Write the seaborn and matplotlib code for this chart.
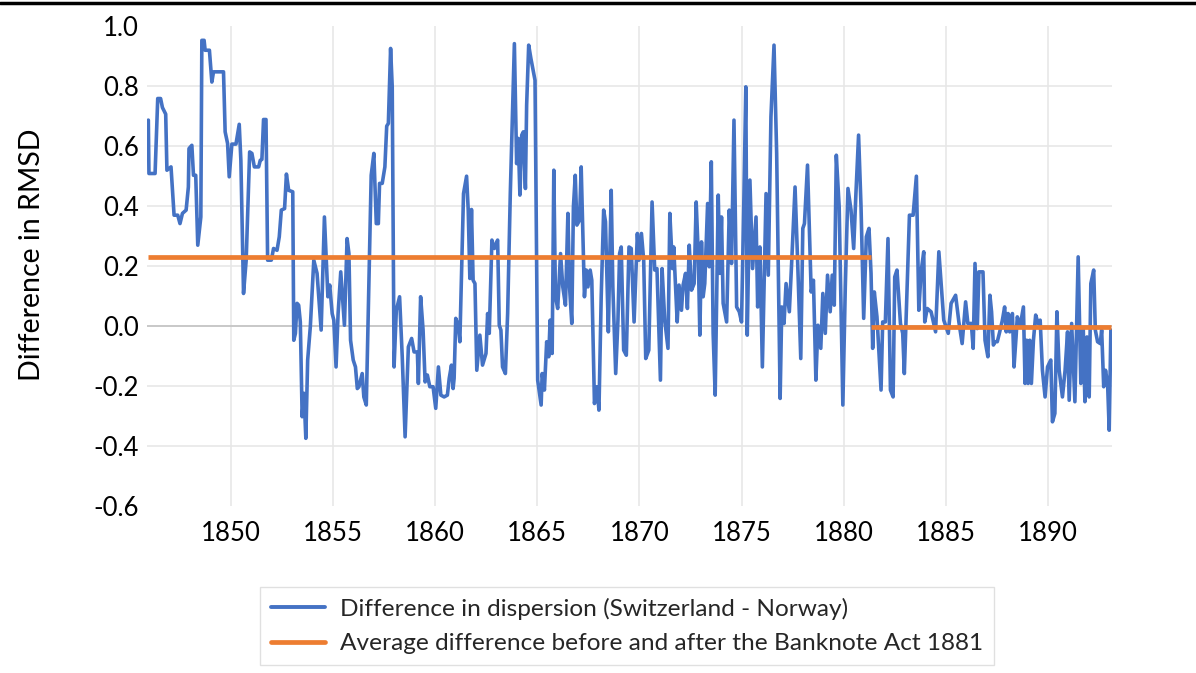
import numpy as np
import pandas as pd
import matplotlib
matplotlib.use("Agg")
import matplotlib.pyplot as plt
from matplotlib.lines import Line2D
import seaborn as sns

# values (year as decimal, difference in RMSD)
dates = [
    1845.96, 1845.99, 1846.29, 1846.42, 1846.56, 1846.65, 1846.81, 1846.87, 1847.07, 1847.22,
    1847.40, 1847.51, 1847.63, 1847.81, 1847.92, 1847.95, 1848.09, 1848.17, 1848.28, 1848.38,
    1848.53, 1848.58, 1848.69, 1848.74, 1848.95, 1849.07, 1849.15, 1849.64, 1849.72, 1849.84,
    1849.92, 1850.05, 1850.25, 1850.41, 1850.49, 1850.62, 1850.75, 1850.92, 1851.03, 1851.15,
    1851.36, 1851.44, 1851.52, 1851.60, 1851.72, 1851.80, 1851.98, 1852.09, 1852.26, 1852.37,
    1852.47, 1852.63, 1852.72, 1852.83, 1853.03, 1853.08, 1853.16, 1853.24, 1853.32, 1853.40,
    1853.49, 1853.58, 1853.67, 1853.76, 1853.89, 1854.06, 1854.22, 1854.42, 1854.58, 1854.75,
    1854.84, 1854.96, 1855.04, 1855.15, 1855.25, 1855.38, 1855.56, 1855.69, 1855.78, 1855.86,
    1855.99, 1856.10, 1856.19, 1856.27, 1856.43, 1856.51, 1856.63, 1856.79, 1856.87, 1857.00,
    1857.12, 1857.22, 1857.28, 1857.41, 1857.54, 1857.63, 1857.71, 1857.82, 1857.90, 1857.99,
    1858.10, 1858.26, 1858.39, 1858.53, 1858.69, 1858.85, 1858.97, 1859.13, 1859.18, 1859.29,
    1859.41, 1859.51, 1859.62, 1859.74, 1859.90, 1860.03, 1860.16, 1860.28, 1860.44, 1860.60,
    1860.69, 1860.80, 1860.88, 1860.93, 1861.01, 1861.13, 1861.21, 1861.31, 1861.39, 1861.54,
    1861.62, 1861.70, 1861.78, 1861.86, 1861.95, 1862.04, 1862.19, 1862.32, 1862.49, 1862.57,
    1862.65, 1862.78, 1862.90, 1863.06, 1863.14, 1863.22, 1863.30, 1863.44, 1863.55, 1863.68,
    1863.88, 1863.99, 1864.07, 1864.15, 1864.24, 1864.32, 1864.42, 1864.48, 1864.58, 1864.69,
    1864.89, 1865.02, 1865.19, 1865.24, 1865.35, 1865.46, 1865.56, 1865.63, 1865.73, 1865.81,
    1865.89, 1866.00, 1866.14, 1866.25, 1866.38, 1866.50, 1866.58, 1866.69, 1866.77, 1866.86,
    1866.94, 1867.07, 1867.15, 1867.31, 1867.40, 1867.48, 1867.59, 1867.67, 1867.80, 1867.92,
    1868.02, 1868.13, 1868.25, 1868.34, 1868.48, 1868.54, 1868.62, 1868.70, 1868.84, 1868.95,
    1869.03, 1869.11, 1869.23, 1869.36, 1869.49, 1869.60, 1869.74, 1869.90, 1869.98, 1870.10,
    1870.21, 1870.31, 1870.46, 1870.62, 1870.75, 1870.86, 1871.03, 1871.11, 1871.24, 1871.40,
    1871.49, 1871.62, 1871.68, 1871.85, 1871.94, 1872.06, 1872.14, 1872.26, 1872.35, 1872.44,
    1872.55, 1872.68, 1872.78, 1872.88, 1872.96, 1873.04, 1873.12, 1873.20, 1873.34, 1873.42,
    1873.52, 1873.61, 1873.71, 1873.86, 1873.94, 1874.02, 1874.10, 1874.27, 1874.40, 1874.51,
    1874.63, 1874.76, 1874.89, 1875.00, 1875.12, 1875.21, 1875.28, 1875.41, 1875.54, 1875.71,
    1875.79, 1875.90, 1876.02, 1876.20, 1876.31, 1876.44, 1876.59, 1876.72, 1876.89, 1876.97,
    1877.08, 1877.18, 1877.34, 1877.46, 1877.62, 1877.75, 1877.90, 1878.00, 1878.08, 1878.23,
    1878.41, 1878.52, 1878.64, 1878.74, 1878.88, 1878.98, 1879.10, 1879.21, 1879.34, 1879.44,
    1879.54, 1879.64, 1879.78, 1879.96, 1880.08, 1880.21, 1880.36, 1880.49, 1880.60, 1880.73,
    1880.85, 1880.98, 1881.11, 1881.24, 1881.34, 1881.42, 1881.50, 1881.63, 1881.83, 1881.91,
    1882.04, 1882.17, 1882.29, 1882.42, 1882.50, 1882.61, 1882.78, 1882.89, 1882.97, 1883.22,
    1883.40, 1883.56, 1883.68, 1883.79, 1883.92, 1883.97, 1884.09, 1884.28, 1884.50, 1884.66,
    1884.77, 1884.90, 1885.12, 1885.26, 1885.48, 1885.64, 1885.80, 1885.97, 1886.08, 1886.25,
    1886.34, 1886.43, 1886.54, 1886.62, 1886.82, 1886.92, 1887.06, 1887.16, 1887.24, 1887.33,
    1887.41, 1887.52, 1887.64, 1887.77, 1887.88, 1887.96, 1888.05, 1888.13, 1888.26, 1888.34,
    1888.44, 1888.50, 1888.64, 1888.80, 1888.88, 1888.96, 1889.03, 1889.11, 1889.19, 1889.29,
    1889.40, 1889.52, 1889.62, 1889.73, 1889.86, 1889.98, 1890.14, 1890.22, 1890.34, 1890.44,
    1890.55, 1890.71, 1890.84, 1890.96, 1891.04, 1891.16, 1891.32, 1891.48, 1891.61, 1891.73,
    1891.81, 1891.91, 1892.02, 1892.10, 1892.24, 1892.32, 1892.43, 1892.56, 1892.63, 1892.73,
    1892.82, 1892.92, 1893.00, 1893.08,
]
rmsd_diff = [
    0.687, 0.509, 0.509, 0.759, 0.759, 0.729, 0.707, 0.520, 0.531, 0.370,
    0.370, 0.342, 0.376, 0.387, 0.464, 0.592, 0.603, 0.503, 0.503, 0.270,
    0.364, 0.953, 0.953, 0.920, 0.920, 0.814, 0.848, 0.848, 0.648, 0.609,
    0.498, 0.607, 0.607, 0.673, 0.553, 0.109, 0.220, 0.581, 0.576, 0.531,
    0.531, 0.553, 0.556, 0.689, 0.689, 0.220, 0.220, 0.259, 0.253, 0.298,
    0.387, 0.392, 0.507, 0.453, 0.448, -0.047, -0.024, 0.076, 0.070, 0.014,
    -0.302, -0.224, -0.374, -0.113, -0.002, 0.220, 0.176, -0.013, 0.364, 0.098,
    0.137, 0.042, 0.020, -0.136, 0.042, 0.181, 0.003, 0.292, 0.242, -0.047,
    -0.113, -0.136, -0.208, -0.202, -0.158, -0.236, -0.263, 0.242, 0.503, 0.576,
    0.342, 0.342, 0.476, 0.476, 0.531, 0.667, 0.676, 0.926, 0.798, -0.136,
    0.053, 0.098, -0.102, -0.369, -0.069, -0.041, -0.086, -0.086, -0.191, 0.098,
    -0.013, -0.186, -0.163, -0.202, -0.202, -0.274, -0.136, -0.230, -0.236, -0.230,
    -0.174, -0.130, -0.208, -0.174, 0.026, 0.003, -0.052, 0.220, 0.442, 0.500,
    0.387, 0.159, 0.389, 0.153, 0.142, -0.147, -0.030, -0.130, -0.091, 0.042,
    -0.024, 0.287, 0.259, 0.287, 0.003, -0.013, -0.136, -0.158, 0.042, 0.442,
    0.942, 0.542, 0.626, 0.437, 0.637, 0.648, 0.459, 0.737, 0.937, 0.892,
    0.820, -0.180, -0.263, -0.158, -0.213, -0.052, -0.102, 0.020, -0.091, 0.520,
    0.098, 0.059, 0.242, 0.131, 0.070, 0.376, 0.131, 0.009, 0.398, 0.503,
    0.337, 0.353, 0.531, 0.098, 0.187, 0.131, 0.187, 0.153, -0.258, -0.202,
    -0.280, 0.098, 0.387, 0.348, -0.019, 0.192, 0.453, 0.131, -0.158, 0.020,
    0.242, 0.264, -0.080, -0.097, 0.264, 0.259, 0.014, 0.309, 0.220, 0.309,
    0.220, -0.108, -0.080, 0.414, 0.187, 0.192, -0.180, 0.192, 0.020, -0.074,
    0.376, 0.192, 0.264, 0.014, 0.137, 0.053, 0.137, 0.176, 0.059, 0.270,
    0.120, 0.142, 0.414, 0.242, -0.030, 0.281, 0.098, 0.142, 0.409, 0.198,
    0.548, -0.024, -0.230, 0.437, 0.176, 0.364, 0.076, 0.014, 0.387, 0.209,
    0.687, 0.064, 0.048, 0.014, 0.442, 0.798, -0.030, 0.487, 0.192, 0.364,
    0.064, 0.264, -0.136, 0.442, 0.170, 0.698, 0.937, 0.576, -0.241, 0.064,
    0.009, 0.142, 0.048, 0.220, 0.464, 0.209, -0.108, 0.326, 0.342, 0.537,
    0.114, 0.153, -0.180, 0.003, -0.074, 0.109, -0.024, 0.170, 0.048, 0.170,
    0.070, 0.570, 0.398, -0.263, 0.131, 0.459, 0.387, 0.259, 0.442, 0.637,
    0.398, 0.026, 0.298, 0.326, 0.176, -0.074, 0.114, 0.031, -0.213, 0.014,
    0.014, 0.292, -0.213, -0.236, 0.164, 0.187, 0.009, -0.024, -0.158, 0.370,
    0.370, 0.500, 0.053, 0.181, 0.248, 0.014, 0.059, 0.048, -0.019, 0.248,
    0.142, 0.020, -0.024, 0.076, 0.103, 0.014, -0.058, 0.081, 0.009, 0.009,
    -0.074, 0.209, -0.008, 0.181, 0.181, -0.047, -0.102, 0.103, 0.048, -0.063,
    -0.052, -0.052, -0.019, 0.020, 0.064, -0.019, 0.042, -0.019, 0.042, -0.136,
    -0.036, 0.031, 0.000, 0.064, -0.191, -0.047, -0.191, -0.047, -0.191, -0.047,
    0.037, 0.009, 0.020, -0.147, -0.236, -0.136, -0.113, -0.319, -0.291, 0.048,
    -0.147, -0.236, -0.147, -0.019, -0.247, 0.009, -0.252, 0.231, -0.191, -0.008,
    -0.252, -0.036, -0.236, 0.142, 0.187, -0.013, -0.052, -0.058, -0.013, -0.202,
    -0.147, -0.191, -0.347, -0.013,
]

# average difference before / after the Banknote Act 1881
avg_start = [1845.96, 1881.35]
avg_end = [1881.35, 1893.10]
avg_value = [0.232, -0.003]

y_ticks = [-0.6, -0.4, -0.2, 0.0, 0.2, 0.4, 0.6, 0.8, 1.0]
x_ticks = [1850, 1855, 1860, 1865, 1870, 1875, 1880, 1885, 1890]

BLUE = "#4472C4"
ORANGE = "#ED7D31"

sns.set_theme(style="white")
plt.rcParams["font.family"] = ["Lato", "DejaVu Sans"]

fig = plt.figure(figsize=(11.96, 6.73), dpi=100)
ax = fig.add_axes([0.123, 0.248, 0.807, 0.713])

series = pd.DataFrame({"year": dates, "diff": rmsd_diff})
sns.lineplot(data=series, x="year", y="diff", sort=False, estimator=None,
             color=BLUE, linewidth=2.6, ax=ax, zorder=3,
             solid_joinstyle="round", solid_capstyle="round")

for x0, x1, v in zip(avg_start, avg_end, avg_value):
    seg = pd.DataFrame({"year": [x0, x1], "diff": [v, v]})
    sns.lineplot(data=seg, x="year", y="diff", color=ORANGE, linewidth=3.4,
                 ax=ax, zorder=4, solid_capstyle="butt")

ax.set_xlim(1845.9, 1893.15)
ax.set_ylim(-0.6, 1.0)
ax.set_yticks(y_ticks)
ax.set_yticklabels([f"{t:.1f}" for t in y_ticks])
ax.set_xticks(x_ticks)
ax.set_xticklabels([str(t) for t in x_ticks])

ax.grid(True, color="#E6E6E6", linewidth=1.1)
ylines = ax.yaxis.get_gridlines()
ylines[0].set_visible(False)
ylines[-1].set_visible(False)
ax.axhline(0, color="#BFBFBF", linewidth=1.1, zorder=1)

for s in ax.spines.values():
    s.set_visible(False)
ax.tick_params(axis="both", length=0, labelsize=18.5, colors="black")
ax.tick_params(axis="y", pad=6)
ax.tick_params(axis="x", pad=11)

ax.set_xlabel("")
ax.set_ylabel("Difference in RMSD", fontsize=20.5, color="black")
ax.yaxis.set_label_coords(-0.106, 0.523)

handles = [Line2D([0], [0], color=BLUE, linewidth=2.8),
           Line2D([0], [0], color=ORANGE, linewidth=3.4)]
labels = ["Difference in dispersion (Switzerland - Norway)",
          "Average difference before and after the Banknote Act 1881"]
leg = fig.legend(handles, labels, loc="center", bbox_to_anchor=(0.5242, 0.0698),
                 fontsize=17.6, frameon=True, fancybox=False, handlelength=2.2,
                 handletextpad=0.6, labelspacing=0.55, borderpad=0.45,
                 borderaxespad=0)
leg.get_frame().set_edgecolor("#D9D9D9")
leg.get_frame().set_linewidth(1.0)

# black rule along the top edge of the image
fig.add_artist(Line2D([0, 1], [0.9955, 0.9955], transform=fig.transFigure,
                      color="black", linewidth=2.5))

fig.savefig("out.png", dpi=100)
